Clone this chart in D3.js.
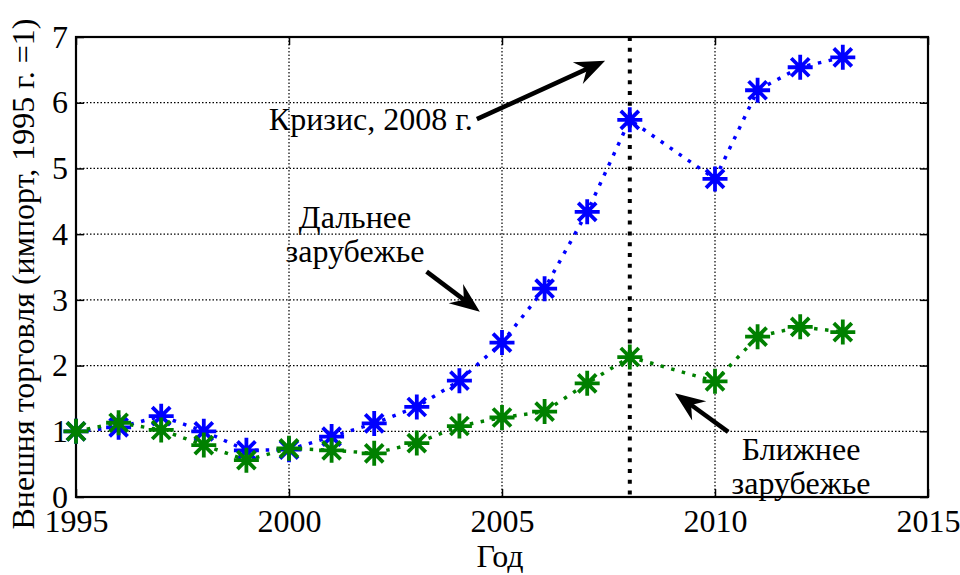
<!DOCTYPE html>
<html><head><meta charset="utf-8">
<script src="https://cdn.jsdelivr.net/npm/d3@7/dist/d3.min.js"></script>
<style>body{margin:0;background:#fff}svg{display:block}text{font-family:"Liberation Serif","Times New Roman",serif;fill:#000}</style>
</head><body><svg id="c" width="960" height="575"></svg>
<script>
const years = [1995,1996,1997,1998,1999,2000,2001,2002,2003,2004,2005,2006,2007,2008,2010,2011,2012,2013];
const farAbroad = [1.0,1.06,1.23,1.0,0.71,0.72,0.92,1.12,1.37,1.77,2.35,3.17,4.34,5.74,4.84,6.19,6.54,6.69];
const nearAbroad = [1.0,1.13,1.02,0.79,0.56,0.74,0.71,0.665,0.82,1.08,1.21,1.30,1.73,2.13,1.76,2.44,2.59,2.51];
const xTicks = [1995,2000,2005,2010,2015];
const yTicks = [0,1,2,3,4,5,6,7];
const crisisYear = 2008;
const xLabel = "Год";
const yLabel = "Внешня торговля (импорт, 1995 г. =1)";
const crisisText = ["Кризис, 2008 г."];
const farText = ["Дальнее","зарубежье"];
const nearText = ["Ближнее","зарубежье"];

const FONT = '"Liberation Serif","Times New Roman",serif';
const svg = d3.select("#c");
const L=76,R=928,T=37,B=497;
const x = d3.scaleLinear().domain([1995,2015]).range([L,R]);
const y = d3.scaleLinear().domain([0,7]).range([B,T]);

// grid
const g = svg.append("g");
g.selectAll(".gx").data(xTicks.slice(1,-1)).join("line")
 .attr("x1",d=>x(d)).attr("x2",d=>x(d)).attr("y1",T).attr("y2",B)
 .attr("stroke","#000").attr("stroke-width",1.2).attr("stroke-dasharray","1.5,2");
g.selectAll(".gy").data(yTicks.slice(1,-1)).join("line")
 .attr("y1",d=>y(d)).attr("y2",d=>y(d)).attr("x1",L).attr("x2",R)
 .attr("stroke","#000").attr("stroke-width",1.2).attr("stroke-dasharray","1.5,2");

// axes via d3
const ax = d3.axisBottom(x).tickValues(xTicks).tickFormat(d3.format("d")).tickSize(-8).tickPadding(12);
const ay = d3.axisLeft(y).tickValues(yTicks).tickFormat(d3.format("d")).tickSize(-8).tickPadding(8);
const gx = svg.append("g").attr("transform",`translate(0,${B})`).call(ax);
const gy = svg.append("g").attr("transform",`translate(${L},0)`).call(ay);
const gxt = svg.append("g").attr("transform",`translate(0,${T})`).call(d3.axisTop(x).tickValues(xTicks).tickSize(-8).tickFormat(""));
const gyr = svg.append("g").attr("transform",`translate(${R},0)`).call(d3.axisRight(y).tickValues(yTicks).tickSize(-8).tickFormat(""));
[gx,gy,gxt,gyr].forEach(a=>{a.attr("font-family",FONT).attr("font-size",32);
 a.select(".domain").remove();a.selectAll("line").attr("stroke","#000").attr("stroke-width",1.5);
 a.selectAll("text").attr("fill","#000");});
gx.selectAll("text").attr("dy","0.71em");
svg.append("rect").attr("x",L).attr("y",T).attr("width",R-L).attr("height",B-T)
 .attr("fill","none").attr("stroke","#000").attr("stroke-width",2.2);

// crisis line
svg.append("line").attr("x1",x(crisisYear)).attr("x2",x(crisisYear)).attr("y1",T).attr("y2",B)
 .attr("stroke","#000").attr("stroke-width",4).attr("stroke-dasharray","4,6.8");

function series(vals,color){
  const data = years.map((yr,i)=>[yr,vals[i]]);
  svg.append("path").datum(data).attr("fill","none").attr("stroke",color).attr("stroke-width",3.5)
   .attr("stroke-dasharray","3.5,7.5").attr("d",d3.line().x(d=>x(d[0])).y(d=>y(d[1])));
  const s=12.5, s2=9;
  const m = svg.append("g").selectAll("g").data(data).join("g").attr("transform",d=>`translate(${x(d[0])},${y(d[1])})`);
  m.append("path").attr("d",`M${-s},0H${s}M0,${-s}V${s}M${-s2},${-s2}L${s2},${s2}M${-s2},${s2}L${s2},${-s2}`)
   .attr("stroke",color).attr("stroke-width",3.8).attr("fill","none");
}
series(farAbroad,"#0000ff");
series(nearAbroad,"#008000");

function arrow(x1,y1,x2,y2){
  const px1=x(x1),py1=y(y1),px2=x(x2),py2=y(y2);
  const a=Math.atan2(py2-py1,px2-px1), len=Math.hypot(px2-px1,py2-py1);
  const hl=30, hw=12, notch=20;
  const gA=svg.append("g").attr("transform",`translate(${px1},${py1}) rotate(${a*180/Math.PI})`);
  gA.append("line").attr("x1",0).attr("y1",0).attr("x2",len-notch+2).attr("y2",0).attr("stroke","#000").attr("stroke-width",4.5);
  gA.append("path").attr("d",`M${len},0L${len-hl},${-hw}L${len-notch},0L${len-hl},${hw}Z`).attr("fill","#000");
}
arrow(2004.41,5.75,2007.42,6.64);
arrow(2003.23,3.43,2004.48,2.82);
arrow(2010.31,0.99,2009.06,1.58);

function label(lines,cx,by){
  svg.append("g").selectAll("text").data(lines).join("text").attr("x",x(cx)).attr("y",(d,i)=>y(by)+i*34)
   .attr("text-anchor","middle").style("font-family",FONT).style("font-size","32px").text(d=>d);
}
label(crisisText,2001.92,5.59);
label(farText,2001.55,4.09);
label(nearText,2012.02,0.56);

svg.append("text").attr("x",x(2005)-2).attr("y",567).attr("text-anchor","middle").style("font-family",FONT).style("font-size","32px").text(xLabel);
svg.append("text").attr("transform",`translate(34,274) rotate(-90)`).attr("text-anchor","middle").style("font-family",FONT).style("font-size","32px").text(yLabel);
</script></body></html>
